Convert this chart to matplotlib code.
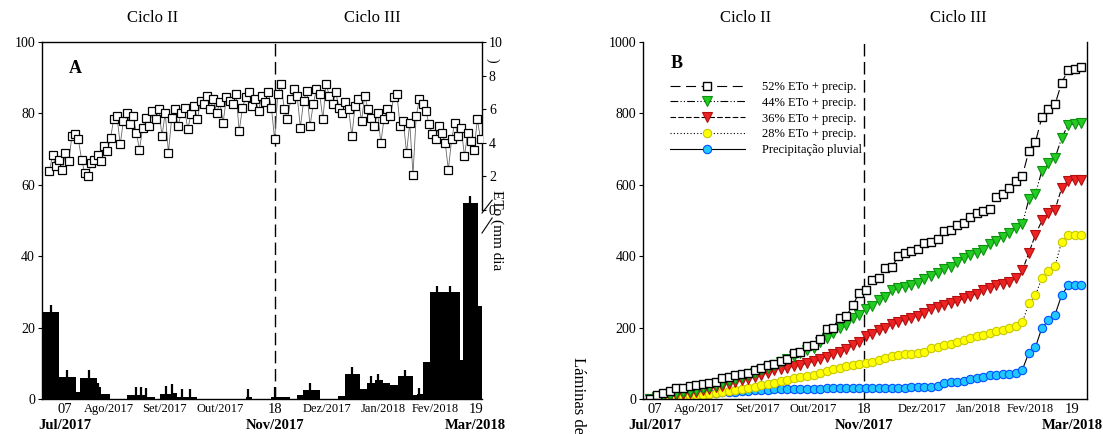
import numpy as np
import matplotlib
matplotlib.use('Agg')
import matplotlib.pyplot as plt

plt.rcParams['font.family'] = ['Liberation Serif', 'DejaVu Serif']

# ---------------- Panel A data ----------------
# precipitation bars (mm): interval edges (day index) and heights
precip_edges = [-6.6, 4.0, 14.5, 17.0, 27.6, 30.1, 35.7, 46.2, 58.7, 63.6, 66.8, 74.2,
                77.3, 89.7, 120.0, 124.0, 136.0, 147.6, 151.9, 155.6, 166.2, 177.4,
                181.7, 191.1, 195.4, 200.4, 205.4, 209.7, 214.7, 224.0, 226.5, 230.2,
                234.6, 253.2, 255.1, 264.4, 266.9]
precip_heights = [24.3, 6.1, 2.0, 5.8, 3.4, 1.4, 0, 1.0, 0.5, 0, 1.3, 1.7,
                  0.6, 0, 0.6, 0, 0.6, 0, 1.0, 2.5, 0, 0.8,
                  7.0, 2.8, 4.4, 5.3, 4.4, 3.9, 6.5, 1.0, 1.4, 10.3,
                  30.0, 11.0, 55.0, 26.0]
err_x = [-1.0, 9.0, 22.6, 27.9, 51.8, 54.9, 58.0, 70.5, 74.5, 80.4, 85.4, 121.4,
         138.2, 160.0, 186.1, 198.0, 202.0, 219.0, 227.5, 239.0, 247.0, 259.5]
err_center = [24.3, 6.1, 5.8, 3.4, 1.0, 1.0, 1.0, 1.3, 1.7, 0.6, 0.6, 0.6,
              0.6, 2.5, 7.0, 4.4, 5.3, 6.5, 1.4, 30.0, 30.0, 55.0]
err_half = [2.1, 2.0, 2.2, 1.2, 2.5, 2.5, 2.0, 2.3, 2.5, 2.3, 2.3, 2.2,
            2.8, 2.0, 2.0, 2.0, 1.8, 1.7, 1.8, 1.7, 1.7, 2.0]

# ETo (mm/day), every 2 days starting at day -2
eto_start, eto_step = -2, 2
eto = [2.3, 3.3, 2.6, 3.0, 2.4, 3.4, 2.9, 4.4, 4.5, 4.2,
       3.0, 2.2, 2.0, 2.8, 3.0, 3.3, 2.9, 3.8, 3.5, 4.3,
       5.4, 5.6, 3.9, 5.3, 5.8, 5.1, 5.6, 4.6, 3.6, 4.9,
       5.5, 5.0, 5.9, 5.4, 6.0, 4.4, 5.8, 3.4, 5.5, 6.0,
       5.0, 5.8, 6.1, 4.8, 5.7, 6.2, 5.4, 6.5, 6.3, 6.8,
       6.0, 6.6, 5.8, 6.4, 5.2, 6.7, 6.5, 6.3, 6.9, 4.7,
       6.1, 6.7, 7.0, 6.2, 6.6, 5.9, 6.8, 6.4, 7.0, 6.1,
       4.2, 6.9, 7.5, 6.0, 5.4, 6.6, 7.2, 6.8, 4.9, 6.5,
       7.1, 5.0, 6.3, 7.2, 6.9, 5.4, 7.5, 6.8, 6.3, 7.0,
       6.1, 5.8, 6.4, 6.0, 4.4, 6.2, 6.6, 5.3, 6.8, 6.0,
       5.5, 5.0, 5.8, 4.0, 5.4, 6.0, 5.6, 6.7, 6.9, 5.0,
       5.3, 3.4, 5.2, 2.1, 5.6, 6.6, 6.3, 5.9, 5.1, 4.5,
       4.2, 5.0, 4.6, 4.0, 2.4, 4.2, 5.2, 4.4, 4.9, 3.2,
       4.6, 4.1, 3.6, 5.4, 4.2]

# ---------------- Panel B data ----------------
b_start, b_step = 7, 4
lam52 = [0, 12, 17, 22, 31, 32, 36, 40, 41, 46,
         48, 58, 63, 66, 71, 74, 80, 86, 94, 97,
         106, 112, 128, 131, 148, 152, 168, 195, 200, 228,
         232, 262, 298, 305, 333, 338, 368, 370, 400, 410,
         415, 420, 437, 440, 448, 470, 474, 488, 492, 510,
         520, 528, 532, 565, 575, 590, 612, 625, 695, 720,
         790, 812, 825, 885, 922, 925, 930]
lam44 = [0, 5, 9, 12, 16, 19, 22, 26, 30, 35,
         40, 45, 51, 56, 62, 68, 74, 81, 88, 96,
         104, 112, 120, 128, 136, 143, 160, 172, 185, 200,
         208, 228, 235, 252, 260, 276, 285, 305, 310, 314,
         320, 325, 335, 345, 352, 365, 370, 385, 395, 402,
         410, 418, 435, 442, 455, 465, 480, 490, 560, 575,
         640, 660, 675, 730, 768, 770, 772]
lam36 = [0, 3, 6, 9, 12, 15, 18, 21, 25, 29,
         33, 37, 42, 47, 52, 57, 62, 68, 74, 80,
         84, 88, 92, 96, 100, 106, 112, 118, 125, 132,
         140, 150, 160, 176, 182, 192, 198, 210, 216, 222,
         226, 232, 240, 252, 258, 264, 268, 274, 282, 288,
         295, 305, 312, 318, 323, 328, 338, 360, 410, 460,
         500, 520, 530, 590, 612, 614, 614]
lam28 = [0, 1, 2, 3, 5, 6, 8, 10, 12, 14,
         16, 19, 22, 25, 28, 31, 34, 38, 42, 46,
         50, 54, 58, 62, 65, 68, 72, 78, 84, 88,
         92, 95, 98, 101, 105, 110, 114, 120, 123, 125,
         127, 128, 132, 142, 146, 150, 155, 160, 166, 170,
         176, 180, 186, 190, 194, 198, 205, 215, 268, 290,
         340, 358, 372, 440, 460, 460, 460]
lam_pp = [0, 4, 8, 10, 12, 13, 14, 15, 16, 17,
          18, 19, 20, 21, 22, 23, 24, 25, 26, 27,
          27, 28, 28, 29, 29, 29, 29, 30, 30, 30,
          30, 30, 30, 30, 30, 30, 30, 30, 31, 32,
          33, 33, 33, 34, 36, 45, 47, 48, 50, 55,
          60, 62, 66, 68, 70, 70, 72, 82, 130, 145,
          200, 220, 236, 290, 318, 318, 318]

tick_labels = ['07', 'Ago/2017', 'Set/2017', 'Out/2017', '18',
               'Dez/2017', 'Jan/2018', 'Fev/2018', '19']
ticks_A = [7.6, 34.7, 69.5, 104.3, 138, 170.6, 205.4, 238, 263]
ticks_B = [10, 37, 72.4, 106.8, 138, 173.5, 207.9, 240, 265.5]
second_row = {0: 'Jul/2017', 4: 'Nov/2017', 8: 'Mar/2018'}
cycle_day = 138

# ---------------- Figure ----------------
W, H = 1103, 434
fig = plt.figure(figsize=(W / 100, H / 100), dpi=100)


def rect(l, r, t, b):
    return [l / W, 1 - b / H, (r - l) / W, (b - t) / H]


axA = fig.add_axes(rect(42, 482, 42, 399))
axB = fig.add_axes(rect(643, 1087, 42, 399))


def style_xaxis(ax, ticks):
    ax.set_xticks(ticks)
    ax.set_xticklabels(tick_labels)
    for i, lab in enumerate(ax.get_xticklabels()):
        lab.set_fontsize(10.5 if i in second_row else 9)
    ax.tick_params(axis='x', length=0, pad=3)
    for i, txt in second_row.items():
        ax.text(ticks[i], -0.073, txt, transform=ax.get_xaxis_transform(),
                ha='center', va='center', fontsize=10.5, fontweight='bold')
    ax.tick_params(axis='y', direction='out', length=3, width=0.8, labelsize=10, pad=2)


# ---- Panel A ----
edges = np.array(precip_edges)
axA.bar(edges[:-1], precip_heights, width=np.diff(edges), align='edge',
        color='black', linewidth=0, zorder=2)
axA.errorbar(err_x, err_center, yerr=err_half, fmt='none', ecolor='black',
             elinewidth=1.6, capsize=0, zorder=2)
axA.axvline(cycle_day, color='black', lw=1.0, dashes=(9, 4), zorder=1)
axA.set_xlim(-6.6, 266.9)
axA.set_ylim(0, 100)
axA.set_yticks(range(0, 101, 20))
axA.spines['right'].set_visible(False)
for s in ['left', 'bottom', 'top']:
    axA.spines[s].set_linewidth(1.0)
style_xaxis(axA, ticks_A)
axA.text(0.075, 0.925, 'A', transform=axA.transAxes, fontsize=13,
         fontweight='bold', ha='center', va='center')

axE = axA.twinx()
eto_days = eto_start + eto_step * np.arange(len(eto))
axE.plot(eto_days, eto, '-', color='0.4', lw=0.6, marker='s', ms=6,
         mfc='white', mec='black', mew=0.9, zorder=3)
axE.set_ylim(-11.25, 10)
axE.set_yticks(range(0, 11, 2))
for s in ['left', 'top', 'bottom']:
    axE.spines[s].set_visible(False)
axE.spines['right'].set_bounds(0, 10)
axE.spines['right'].set_linewidth(1.0)
axE.tick_params(axis='y', direction='out', length=3, width=0.8, labelsize=10, pad=2)
# axis-break marks
for y0, y1 in [(0.521, 0.557), (0.465, 0.507)]:
    axA.plot([1.0, 1.023], [y0, y1], transform=axA.transAxes, color='black',
             lw=0.8, clip_on=False)
fig.text(497 / W, 1 - 190 / H, 'ETo (mm dia', rotation=270, ha='center', va='top',
         fontsize=11)
fig.text(492 / W, 1 - 60 / H, ')', rotation=270, ha='center', va='center', fontsize=10)

# ---- Panel B ----
days_B = b_start + b_step * np.arange(len(lam52))
lw = 0.8
h_pp, = axB.plot(days_B, lam_pp, '-', color='black', lw=lw, marker='o', ms=6,
                 mfc='#20c8ff', mec='#0050ff', mew=0.8, label='Precipitação pluvial')
h28, = axB.plot(days_B, lam28, color='black', lw=lw, ls=(0, (1, 2)), marker='o', ms=6,
                mfc='#ffff00', mec='#c8c800', mew=0.8, label='28% ETo + precip.')
h36, = axB.plot(days_B, lam36, color='black', lw=lw, ls=(0, (5, 2)), marker='v', ms=6.5,
                mfc='#ee2222', mec='#b01010', mew=0.8, label='36% ETo + precip.')
h44, = axB.plot(days_B, lam44, color='black', lw=lw, ls=(0, (7, 2, 1, 2, 1, 2)),
                marker='v', ms=6.5, mfc='#22cc22', mec='#109010', mew=0.8,
                label='44% ETo + precip.')
h52, = axB.plot(days_B, lam52, color='black', lw=lw, ls=(0, (9, 5)), marker='s', ms=6,
                mfc='white', mec='black', mew=1.0, label='52% ETo + precip.')
axB.axvline(cycle_day, color='black', lw=1.0, dashes=(9, 4), zorder=1)
axB.set_xlim(2.5, 274.6)
axB.set_ylim(0, 1000)
axB.set_yticks(range(0, 1001, 200))
axB.spines['top'].set_visible(False)
for s in ['left', 'bottom', 'right']:
    axB.spines[s].set_linewidth(1.0)
style_xaxis(axB, ticks_B)
axB.text(0.075, 0.94, 'B', transform=axB.transAxes, fontsize=13,
         fontweight='bold', ha='center', va='center')
axB.legend(handles=[h52, h44, h36, h28, h_pp], loc='upper left',
           bbox_to_anchor=(0.04, 0.915), frameon=False, fontsize=9,
           handlelength=6.0, handletextpad=1.4, labelspacing=0.3, numpoints=1,
           borderpad=0.2)

fig.text(578 / W, 1 - 357 / H, 'Láminas de água (mm)', rotation=270,
         ha='center', va='top', fontsize=12)

# cycle titles
for x, t in [(153, 'Ciclo II'), (372, 'Ciclo III'), (746, 'Ciclo II'), (958, 'Ciclo III')]:
    fig.text(x / W, 1 - 18 / H, t, ha='center', va='center', fontsize=12)

fig.savefig('out.png', dpi=100)
